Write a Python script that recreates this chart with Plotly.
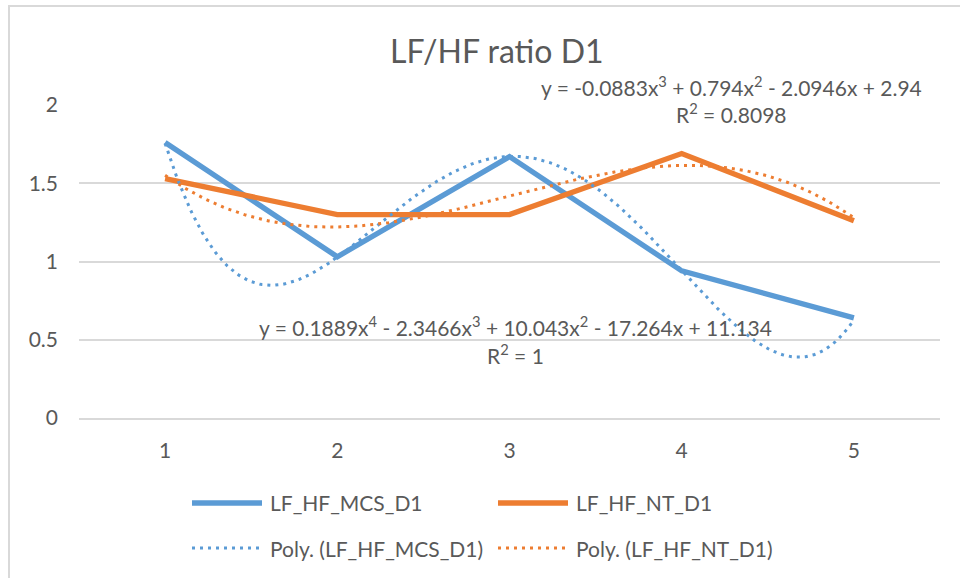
import numpy as np
import plotly.graph_objects as go

# Measurements 1..5 for the two groups
categories = [1, 2, 3, 4, 5]
mcs_values = [1.76, 1.03, 1.67, 0.94, 0.64]
nt_values = [1.53, 1.30, 1.30, 1.69, 1.26]

# Polynomial trendline coefficients (highest power first) and their R²
mcs_poly_coef = [0.1889, -2.3466, 10.043, -17.264, 11.134]
mcs_r2 = "1"
nt_poly_coef = [-0.0883, 0.794, -2.0946, 2.94]
nt_r2 = "0.8098"

y_ticks = [0, 0.5, 1, 1.5, 2]

BLUE = "#5B9BD5"
ORANGE = "#ED7D31"
TEXT = "#595959"
GRID = "#D9D9D9"
FONT = "Lato, 'Open Sans', sans-serif"
FS = 21

W, H = 960, 578
L, R, T, B = 79, 940, 105, 418  # plot area in pixels


def px_x(px):
    return (px - L) / (R - L)


def px_y(py):
    return (B - py) / (B - T)


xs = np.linspace(categories[0], categories[-1], 300)

fig = go.Figure()
fig.add_trace(go.Scatter(x=categories, y=mcs_values, mode="lines",
                         line=dict(color=BLUE, width=5.3), name="LF_HF_MCS_D1",
                         showlegend=False))
fig.add_trace(go.Scatter(x=categories, y=nt_values, mode="lines",
                         line=dict(color=ORANGE, width=5.3), name="LF_HF_NT_D1",
                         showlegend=False))
fig.add_trace(go.Scatter(x=xs, y=np.polyval(mcs_poly_coef, xs), mode="lines",
                         line=dict(color=BLUE, width=3, dash="3px,5px"),
                         name="Poly. (LF_HF_MCS_D1)", showlegend=False))
fig.add_trace(go.Scatter(x=xs, y=np.polyval(nt_poly_coef, xs), mode="lines",
                         line=dict(color=ORANGE, width=3, dash="3px,5px"),
                         name="Poly. (LF_HF_NT_D1)", showlegend=False))


def equation(coefs):
    n = len(coefs) - 1
    parts = []
    for i, c in enumerate(coefs):
        p = n - i
        if p > 1:
            term = f"{abs(c):g}x<sup>{p}</sup>"
        elif p == 1:
            term = f"{abs(c):g}x"
        else:
            term = f"{abs(c):g}"
        if i == 0:
            parts.append(("-" if c < 0 else "") + term)
        else:
            parts.append(("- " if c < 0 else "+ ") + term)
    return "y = " + " ".join(parts)


annotations = [
    dict(text="LF/HF ratio D1", x=px_x(497), y=px_y(50), font=dict(size=32)),
    dict(text=equation(nt_poly_coef), x=px_x(731), y=px_y(86)),
    dict(text="R<sup>2</sup> = " + nt_r2, x=px_x(731), y=px_y(113)),
    dict(text=equation(mcs_poly_coef), x=px_x(515), y=px_y(326)),
    dict(text="R<sup>2</sup> = " + mcs_r2, x=px_x(515), y=px_y(354)),
]
for a in annotations:
    a.update(xref="paper", yref="paper", showarrow=False,
             xanchor="center", yanchor="middle")
    a.setdefault("font", dict(size=FS))
    a["font"].update(color=TEXT, family=FONT)

shapes = [
    # chart border
    dict(type="rect", xref="paper", yref="paper",
         x0=px_x(9), x1=px_x(1010), y0=px_y(640), y1=px_y(6),
         line=dict(color=GRID, width=2), layer="below"),
]

# legend entries
legend_items = [
    ("LF_HF_MCS_D1", BLUE, "solid", 5.3, 192, 503),
    ("LF_HF_NT_D1", ORANGE, "solid", 5.3, 498, 503),
    ("Poly. (LF_HF_MCS_D1)", BLUE, "3px,5px", 3, 192, 548),
    ("Poly. (LF_HF_NT_D1)", ORANGE, "3px,5px", 3, 498, 548),
]
for label, color, dash, width, x0, y0 in legend_items:
    shapes.append(dict(type="line", xref="paper", yref="paper",
                       x0=px_x(x0), x1=px_x(x0 + 70), y0=px_y(y0), y1=px_y(y0),
                       line=dict(color=color, width=width, dash=dash)))
    annotations.append(dict(text=label, xref="paper", yref="paper",
                            x=px_x(x0 + 76), y=px_y(y0), xanchor="left",
                            yanchor="middle", showarrow=False,
                            font=dict(size=FS, color=TEXT, family=FONT)))

fig.update_layout(
    width=W, height=H,
    margin=dict(l=L, r=W - R, t=T, b=H - B),
    paper_bgcolor="white", plot_bgcolor="white",
    font=dict(family=FONT, color=TEXT, size=FS),
    annotations=annotations, shapes=shapes,
    showlegend=False,
)
fig.update_xaxes(range=[0.5, 5.5], tickvals=categories, showgrid=False,
                 zeroline=False, showline=True, linecolor=GRID, linewidth=1.5,
                 ticks="", ticklabelstandoff=13, tickfont=dict(size=FS))
fig.update_yaxes(range=[0, 2], tickvals=y_ticks, showgrid=True,
                 gridcolor=GRID, gridwidth=1.5, zeroline=False,
                 showline=False, ticks="", ticklabelstandoff=20,
                 tickfont=dict(size=FS))

fig.write_html("out.html")
